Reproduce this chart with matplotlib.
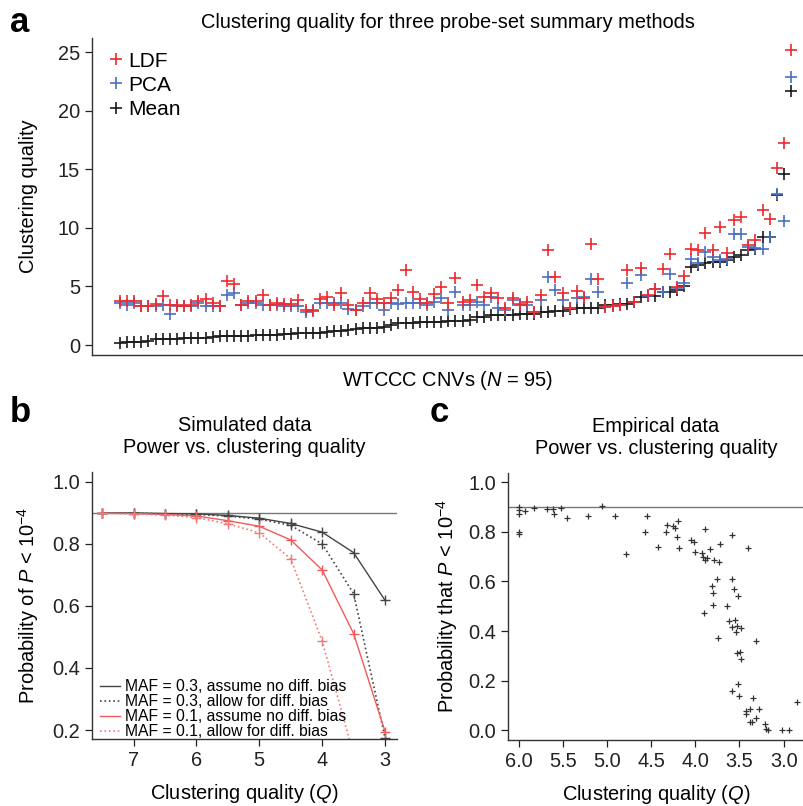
import numpy as np
import matplotlib
matplotlib.use("Agg")
import matplotlib.pyplot as plt
from matplotlib.lines import Line2D

plt.rcParams['font.family'] = ['Liberation Sans', 'DejaVu Sans']
plt.rcParams['mathtext.fontset'] = 'custom'
plt.rcParams['mathtext.rm'] = 'Liberation Sans'
plt.rcParams['mathtext.it'] = 'Liberation Sans:italic'

# ---- panel a: clustering quality per CNV (sorted by Mean) ----
mean_q = [0.14, 0.26, 0.28, 0.30, 0.32, 0.50, 0.52, 0.53, 0.55, 0.56, 0.57, 0.58, 0.60,
          0.72, 0.74, 0.75, 0.77, 0.78, 0.80, 0.82, 0.84, 0.86, 0.88,
          0.95, 0.97, 0.99, 1.00, 1.02, 1.05, 1.15, 1.18, 1.20, 1.25,
          1.40, 1.42, 1.45, 1.48, 1.50, 1.70,
          1.88, 1.90, 1.92, 1.94, 1.96, 1.98, 2.00, 2.02, 2.05, 2.08, 2.10,
          2.35, 2.38, 2.55, 2.57, 2.59, 2.60, 2.62, 2.64, 2.66,
          2.84, 2.86, 2.88, 2.90, 3.10, 3.13, 3.15, 3.17, 3.20,
          3.40, 3.45, 3.48, 3.50, 3.70, 4.10, 4.15, 4.20, 4.50, 4.55, 4.70, 5.00,
          6.68, 6.82, 6.97, 7.05, 7.10, 7.25, 7.53, 7.68, 8.10, 8.16,
          9.18, 9.22, 12.8, 14.6, 21.7]
ldf_q = [3.78, 3.78, 3.78, 3.33, 3.33, 3.47, 4.18, 3.40, 3.40, 3.33, 3.40, 3.72, 3.92,
         3.55, 3.33, 5.48, 5.20, 3.40, 3.72, 3.72, 4.26, 3.40, 3.60, 3.50, 3.50, 3.84,
         3.00, 2.90, 3.92, 4.12, 3.40, 4.40, 3.40, 3.00, 3.60, 4.40, 3.92, 3.60, 4.00,
         4.69, 6.40, 4.55, 3.92, 3.55, 4.33, 4.98, 3.60, 5.69, 3.70, 3.84, 5.12, 4.12,
         4.47, 3.98, 3.13, 3.98, 3.41, 3.70, 2.84, 4.26, 8.10, 5.83, 4.40, 3.13, 4.65,
         3.98, 8.60, 5.60, 3.27, 3.30, 3.40, 6.40, 3.70, 6.54, 4.26, 4.74, 6.45, 7.76,
         4.98, 5.88, 8.16, 8.10, 9.53, 8.10, 10.1, 7.87, 10.7, 10.95, 8.53, 8.96,
         11.5, 10.75, 15.1, 17.2, 25.2]
pca_q = [3.60, 3.45, 3.60, 3.33, 3.33, 3.33, 3.40, 2.64, 3.33, 3.30, 3.33, 3.60, 3.33,
         3.33, 3.33, 4.26, 4.40, 3.40, 3.55, 3.60, 3.40, 3.40, 3.45, 3.33, 3.33, 3.30,
         2.84, 2.95, 3.55, 3.60, 3.55, 3.60, 3.05, 3.00, 3.33, 3.60, 3.55, 3.00, 3.55,
         3.50, 3.60, 3.60, 3.60, 3.40, 3.65, 3.98, 3.00, 4.50, 3.41, 3.41, 3.70, 3.41,
         4.12, 3.13, 3.00, 3.84, 3.50, 3.41, 2.84, 3.84, 5.83, 4.69, 3.84, 3.13, 3.98,
         4.12, 5.60, 4.55, 3.27, 3.30, 3.40, 5.26, 3.70, 5.97, 4.20, 4.74, 4.50, 6.06,
         4.90, 5.26, 7.30, 6.97, 7.96, 7.53, 7.25, 7.30, 9.47, 9.47, 8.39, 8.25,
         8.16, 9.18, 12.9, 10.6, 22.9]

# ---- panel b: simulated power vs Q ----
q_sim = [7.5, 7.0, 6.5, 6.0, 5.5, 5.0, 4.5, 4.0, 3.5, 3.0]
p_03_noadj = [0.900, 0.900, 0.898, 0.897, 0.892, 0.883, 0.866, 0.838, 0.772, 0.618]
p_03_adj = [0.900, 0.899, 0.897, 0.895, 0.890, 0.880, 0.860, 0.800, 0.640, 0.174]
p_01_noadj = [0.899, 0.898, 0.895, 0.890, 0.875, 0.857, 0.813, 0.716, 0.511, 0.195]
p_01_adj = [0.899, 0.897, 0.893, 0.885, 0.865, 0.836, 0.752, 0.487, 0.120, 0.0]

# ---- panel c: empirical power vs Q ----
q_emp = [6.00, 6.00, 6.00, 6.00, 6.00, 5.93, 5.83, 5.68, 5.61, 5.60, 5.52, 5.45, 5.22,
         5.06, 4.91, 4.79, 4.57, 4.55, 4.42, 4.33, 4.32, 4.25, 4.23, 4.20, 4.21, 4.18,
         4.05, 4.02, 4.00, 3.92, 3.91, 3.89, 3.89, 3.87, 3.83, 3.90, 3.79, 3.81, 3.80,
         3.80, 3.75, 3.73, 3.72, 3.74, 3.64, 3.62, 3.59, 3.58, 3.58, 3.56, 3.55, 3.53,
         3.54, 3.52, 3.48, 3.53, 3.49, 3.48, 3.52, 3.58, 3.51, 3.40, 3.43, 3.43, 3.38,
         3.35, 3.38, 3.36, 3.31, 3.28, 3.31, 3.21, 3.20, 3.18, 3.02, 2.94, 2.85]
p_emp = [0.900, 0.887, 0.873, 0.800, 0.790, 0.883, 0.896, 0.894, 0.892, 0.873, 0.896,
         0.856, 0.863, 0.906, 0.865, 0.710, 0.798, 0.865, 0.739, 0.800, 0.829, 0.822,
         0.815, 0.845, 0.778, 0.737, 0.768, 0.761, 0.718, 0.714, 0.700, 0.811, 0.687,
         0.694, 0.730, 0.472, 0.685, 0.580, 0.553, 0.505, 0.610, 0.680, 0.752, 0.370,
         0.500, 0.442, 0.418, 0.786, 0.609, 0.569, 0.445, 0.420, 0.395, 0.542, 0.414,
         0.310, 0.317, 0.286, 0.186, 0.159, 0.139, 0.737, 0.077, 0.065, 0.085, 0.131,
         0.031, 0.031, 0.050, 0.085, 0.360, 0.023, 0.003, 0.000, 0.000, 0.000, 0.112]

RED = '#ee2a2e'
BLUE = '#4a70c0'
BLK = '#1a1a1a'
FS = 14.4


def style_axes(ax):
    ax.spines['top'].set_visible(False)
    ax.spines['right'].set_visible(False)
    for s in ('left', 'bottom'):
        ax.spines[s].set_linewidth(1.0)
        ax.spines[s].set_color('#333333')
    ax.tick_params(direction='out', length=5, width=0.9, labelsize=FS, colors='#222222')


fig = plt.figure(figsize=(8.04, 8.06), dpi=100)
W, H = 804.0, 806.0

# panel a
axa = fig.add_axes([92 / W, 1 - 355 / H, (804 - 92) / W, (355 - 38) / H])
style_axes(axa)
idx = np.arange(len(mean_q))
axa.plot(idx, mean_q, '+', color=BLK, ms=9, mew=1.2, ls='none')
axa.plot(idx, pca_q, '+', color=BLUE, ms=9, mew=1.2, ls='none')
axa.plot(idx, ldf_q, '+', color=RED, ms=9, mew=1.2, ls='none')
axa.set_xlim(-3.9, 95.8)
axa.set_ylim(-0.85, 26.2)
axa.set_yticks([0, 5, 10, 15, 20, 25])
axa.set_xticks([])
axa.set_ylabel('Clustering quality', fontsize=FS, labelpad=14)
axa.set_xlabel(r'WTCCC CNVs ($\it{N}$ = 95)', fontsize=FS, labelpad=10)
axa.set_title('Clustering quality for three probe-set summary methods', fontsize=FS, pad=7)
handles = [Line2D([], [], marker='+', ls='none', color=c, ms=9, mew=1.2) for c in (RED, BLUE, BLK)]
axa.legend(handles, ['LDF', 'PCA', 'Mean'], loc='upper left', frameon=False, fontsize=15,
           handletextpad=0.1, labelspacing=0.25, borderaxespad=0.45, handlelength=1.0,
           borderpad=0.2)

# panel b
axb = fig.add_axes([92 / W, 1 - 739 / H, (397 - 92) / W, (739 - 472) / H])
style_axes(axb)
axb.axhline(0.9, color='#777777', lw=1.0)
axb.plot(q_sim, p_03_noadj, '-', color='#444444', lw=1.0, marker='+', ms=7, mew=1.0)
axb.plot(q_sim, p_03_adj, ':', color='#444444', lw=1.2, marker='+', ms=7, mew=1.0)
axb.plot(q_sim, p_01_noadj, '-', color='#f05a5a', lw=1.0, marker='+', ms=7, mew=1.0)
axb.plot(q_sim, p_01_adj, ':', color='#f07a7a', lw=1.2, marker='+', ms=7, mew=1.0)
axb.set_xlim(7.66, 2.81)
axb.set_ylim(0.171, 1.032)
axb.set_xticks([7, 6, 5, 4, 3])
axb.set_yticks([0.2, 0.4, 0.6, 0.8, 1.0])
axb.set_yticklabels(['0.2', '0.4', '0.6', '0.8', '1.0'])
axb.set_xlabel(r'Clustering quality ($\it{Q}$)', fontsize=FS, labelpad=9)
axb.set_ylabel(r'Probability of $\it{P}$ < 10$^{-4}$', fontsize=FS, labelpad=8)
axb.set_title('Simulated data\nPower vs. clustering quality', fontsize=FS, pad=14, linespacing=1.2)
lh = [Line2D([], [], color='#444444', ls='-', lw=1.0),
      Line2D([], [], color='#444444', ls=':', lw=1.2),
      Line2D([], [], color='#f05a5a', ls='-', lw=1.0),
      Line2D([], [], color='#f07a7a', ls=':', lw=1.2)]
axb.legend(lh, ['MAF = 0.3, assume no diff. bias', 'MAF = 0.3, allow for diff. bias',
                'MAF = 0.1, assume no diff. bias', 'MAF = 0.1, allow for diff. bias'],
           loc='lower left', bbox_to_anchor=(0.0, -0.03), frameon=False, fontsize=11.3,
           handlelength=1.3, handletextpad=0.3, labelspacing=0.0, borderaxespad=0.1)

# panel c
axc = fig.add_axes([508 / W, 1 - 740 / H, (804 - 508) / W, (740 - 473) / H])
style_axes(axc)
axc.axhline(0.9, color='#777777', lw=1.0)
axc.plot(q_emp, p_emp, '+', color='#333333', ms=5, mew=0.9, ls='none')
axc.set_xlim(6.12, 2.77)
axc.set_ylim(-0.04, 1.038)
axc.set_xticks([6.0, 5.5, 5.0, 4.5, 4.0, 3.5, 3.0])
axc.set_xticklabels(['6.0', '5.5', '5.0', '4.5', '4.0', '3.5', '3.0'])
axc.set_yticks([0.0, 0.2, 0.4, 0.6, 0.8, 1.0])
axc.set_yticklabels(['0.0', '0.2', '0.4', '0.6', '0.8', '1.0'])
axc.set_xlabel(r'Clustering quality ($\it{Q}$)', fontsize=FS, labelpad=9)
axc.set_ylabel(r'Probability that $\it{P}$ < 10$^{-4}$', fontsize=FS, labelpad=6)
axc.set_title('Empirical data\nPower vs. clustering quality', fontsize=FS, pad=14, linespacing=1.2)

# panel letters
fig.text(10 / W, 1 - 6 / H, 'a', fontsize=25, fontweight='bold', va='top', ha='left')
fig.text(10 / W, 1 - 396 / H, 'b', fontsize=25, fontweight='bold', va='top', ha='left')
fig.text(430 / W, 1 - 396 / H, 'c', fontsize=25, fontweight='bold', va='top', ha='left')

fig.savefig('out.png', dpi=100)
